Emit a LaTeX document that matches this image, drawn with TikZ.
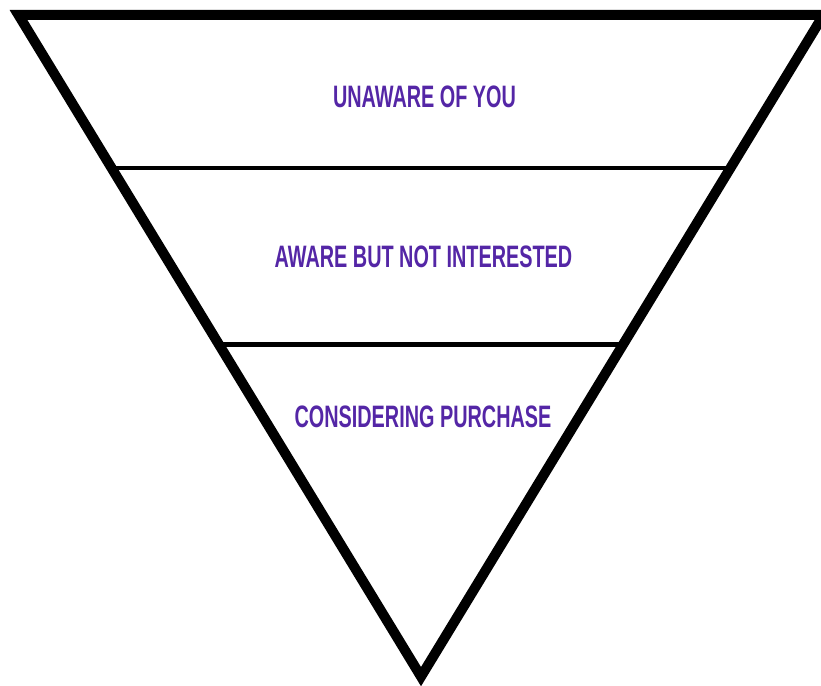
\documentclass[tikz,border=0pt]{standalone}
\usepackage{fontspec}
\setmainfont{Liberation Sans}[FakeStretch=0.64]
\usetikzlibrary{calc}
\definecolor{funnelpurple}{RGB}{84,38,166}
\tikzset{
  funnel/.style={draw=black, line width=10pt, line join=miter, miter limit=10},
  divider/.style={draw=black, line width=4.5pt},
  stage/.style={text=funnelpurple, font=\bfseries\fontsize{31}{31}\selectfont, anchor=base, inner sep=0pt}
}
\begin{document}
\begin{tikzpicture}[x=1pt,y=-1pt]
  \useasboundingbox (0,0) rectangle (821,685);
  % corners of the funnel outline
  \coordinate (tl) at (18.5,15);
  \coordinate (tr) at (823.5,15);
  \coordinate (ap) at (421,676.6);
  % end points of the two dividing lines
  \coordinate (d1l) at ($(tl)!0.2313!(ap)$);
  \coordinate (d1r) at ($(tr)!0.2313!(ap)$);
  \coordinate (d2l) at ($(tl)!0.498!(ap)$);
  \coordinate (d2r) at ($(tr)!0.498!(ap)$);
  \draw[divider] (d1l) -- (d1r);
  \draw[divider] (d2l) -- (d2r);
  \draw[funnel] (tl) -- (tr) -- (ap) -- cycle;
  % stage labels
  \node[stage] (s1) at (424.5,107.5) {UNAWARE OF YOU};
  \node[stage] (s2) at (423.5,267.5) {AWARE BUT NOT INTERESTED};
  \node[stage] (s3) at (423,427.5) {CONSIDERING PURCHASE};
\end{tikzpicture}
\end{document}
